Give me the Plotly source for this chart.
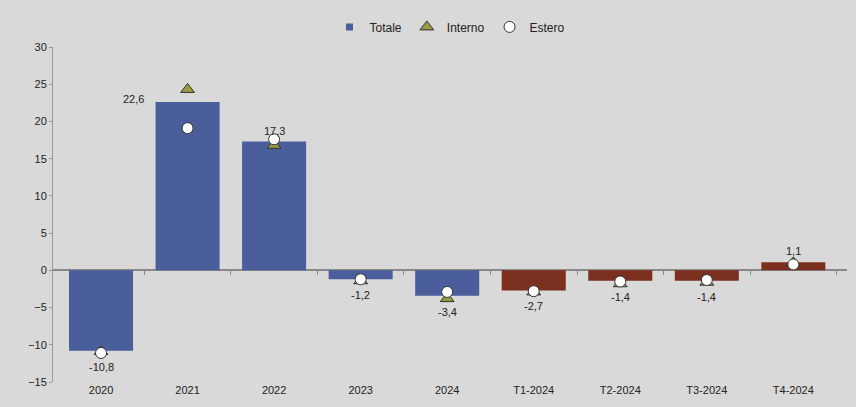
import plotly.graph_objects as go

categories = ["2020", "2021", "2022", "2023", "2024", "T1-2024", "T2-2024", "T3-2024", "T4-2024"]
totale = [-10.8, 22.6, 17.3, -1.2, -3.4, -2.7, -1.4, -1.4, 1.1]
interno = [-10.9, 24.3, 16.8, -1.4, -3.8, -2.9, -1.8, -1.6, 1.0]
estero = [-11.1, 19.1, 17.6, -1.2, -2.9, -2.8, -1.5, -1.3, 0.8]
bar_colors = ["#4a5e9c"] * 5 + ["#7a2f1f"] * 4
label_text = ["-10,8", "22,6", "17,3", "-1,2", "-3,4", "-2,7", "-1,4", "-1,4", "1,1"]
label_pos = ["below", "left", "above", "below", "below", "below", "below", "below", "above"]

idx = list(range(len(categories)))
boundaries = [i + 0.5 for i in idx]
xrange_ = [-0.555, 8.62]

fig = go.Figure()
fig.add_trace(go.Bar(x=idx, y=totale, name="Totale", width=0.74,
                     marker=dict(color=bar_colors, line=dict(width=0)), showlegend=False))
# legend proxy for Totale (blue square)
fig.add_trace(go.Scatter(x=[None], y=[None], mode="markers", name="Totale",
                         marker=dict(symbol="square", size=7, color="#4a5e9c")))
fig.add_trace(go.Scatter(x=idx, y=interno, mode="markers", name="Interno",
                         marker=dict(symbol="triangle-up", size=12, color="#9a9a45",
                                     line=dict(color="#333333", width=1))))
fig.add_trace(go.Scatter(x=idx, y=estero, mode="markers", name="Estero",
                         marker=dict(symbol="circle", size=11, color="#ffffff",
                                     line=dict(color="#333333", width=1))))
# invisible trace on a secondary x axis that draws the category tick marks on the zero line
fig.add_trace(go.Scatter(x=[None], y=[None], xaxis="x2", showlegend=False, hoverinfo="skip"))

for i, v, t, p in zip(idx, totale, label_text, label_pos):
    if p == "below":
        fig.add_annotation(x=i, y=v, text=t, showarrow=False, yanchor="top", yshift=-8)
    elif p == "above":
        fig.add_annotation(x=i, y=v, text=t, showarrow=False, yanchor="bottom", yshift=3)
    else:
        fig.add_annotation(x=i, y=v, text=t, showarrow=False, xanchor="right", xshift=-42, yshift=3)

fig.update_layout(
    width=856, height=407,
    margin=dict(l=53, r=9, t=47, b=25),
    paper_bgcolor="#d9d9d9", plot_bgcolor="#d9d9d9",
    separators=",.",
    font=dict(family="Liberation Sans, Arial, sans-serif", size=11, color="#222222"),
    legend=dict(orientation="h", x=0.5, xanchor="center", y=1.06, yanchor="middle",
                font=dict(size=12), itemwidth=30, tracegroupgap=0, bgcolor="rgba(0,0,0,0)"),
    xaxis=dict(range=xrange_, tickvals=idx, ticktext=categories, showgrid=False,
               showline=False, zeroline=False, ticks="", tickfont=dict(size=11)),
    xaxis2=dict(range=xrange_, overlaying="x", anchor="free", position=15 / 45, side="bottom",
                tickvals=boundaries, showticklabels=False, ticks="outside", ticklen=4,
                tickcolor="#888888", showgrid=False, showline=False, zeroline=False),
    yaxis=dict(range=[-15, 30], dtick=5, showgrid=False, zeroline=True, zerolinecolor="#888888",
               zerolinewidth=1.5, showline=True, linecolor="#999999", ticks="outside", ticklen=3,
               tickcolor="#999999", tickfont=dict(size=11)),
)

fig.write_html("out.html", config={"displayModeBar": False},
               post_script="document.body.style.margin='0';document.body.style.background='#d9d9d9';")
